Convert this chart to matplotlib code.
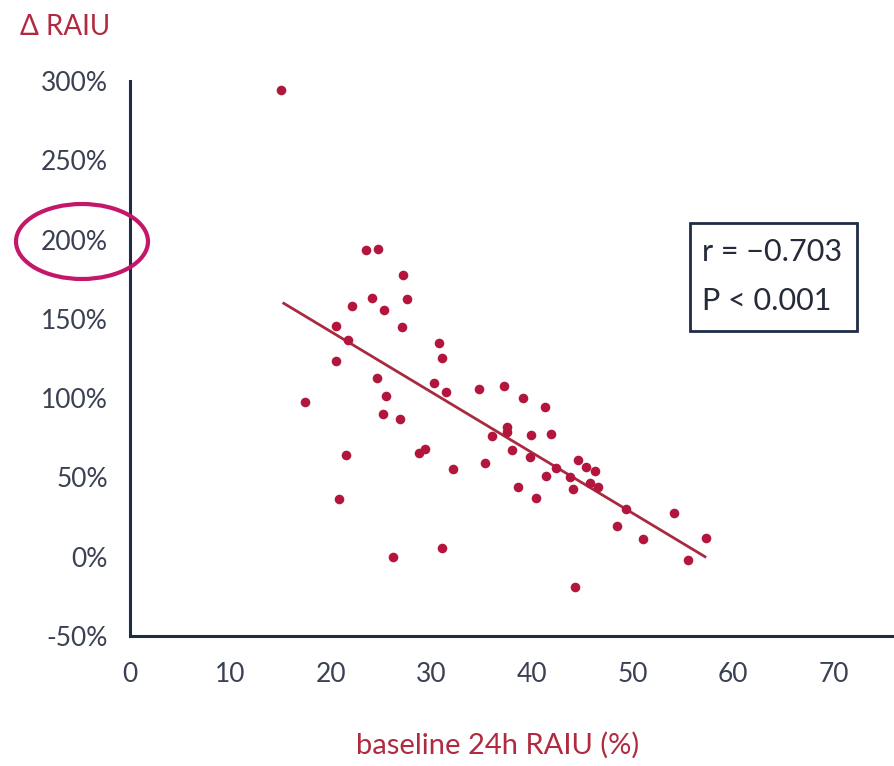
import numpy as np
import matplotlib
matplotlib.use("Agg")
import matplotlib.pyplot as plt
from matplotlib.patches import Ellipse, Rectangle

# baseline 24h RAIU (%) and change in RAIU (%)
baseline = [15.0, 17.4, 20.5, 20.5, 20.8, 21.5, 21.7, 22.1, 23.5, 24.7,
            24.1, 24.6, 25.2, 25.3, 25.5, 26.2, 26.9, 27.1, 27.2, 27.6,
            28.7, 29.3, 30.2, 30.7, 31.0, 31.0, 31.4, 32.1, 34.7, 35.3,
            36.0, 37.2, 37.5, 37.5, 38.0, 38.6, 39.1, 39.8, 39.9, 40.4,
            41.3, 41.4, 41.9, 42.4, 43.8, 44.1, 44.3, 44.6, 45.4, 45.8,
            46.3, 46.6, 48.4, 49.3, 51.0, 54.1, 55.5, 57.3]
delta = [294.3, 97.4, 123.6, 145.8, 36.4, 64.0, 136.9, 158.1, 193.4, 193.8,
         163.4, 112.5, 90.1, 155.4, 101.5, -0.4, 86.8, 144.6, 177.6, 162.3,
         65.2, 67.7, 109.3, 134.6, 125.5, 5.3, 103.7, 55.3, 105.5, 59.3,
         75.9, 107.4, 81.6, 78.8, 67.6, 44.1, 100.3, 62.7, 77.0, 37.3,
         94.6, 50.7, 77.4, 56.2, 50.3, 43.0, -19.0, 61.0, 56.7, 46.5,
         54.2, 44.1, 19.5, 29.9, 11.3, 27.6, -2.0, 12.1]

# regression line ends
fit_x = [15.3, 57.2]
fit_y = [159.8, 0.0]

xticks = [0, 10, 20, 30, 40, 50, 60, 70]
yticks = [-50, 0, 50, 100, 150, 200, 250, 300]
ytick_labels = ["-50%", "0%", "50%", "100%", "150%", "200%", "250%", "300%"]

plt.rcParams['font.family'] = ['Lato', 'DejaVu Sans']

W, H = 894, 766
fig = plt.figure(figsize=(W / 100, H / 100), dpi=100)
ax = fig.add_axes([130 / W, 130 / H, (W - 130) / W, 555 / H])

navy = "#1f2b48"
red = "#b3163c"
label_red = "#b02a40"
tick_col = "#3a4152"

ax.scatter(baseline, delta, s=48, color=red, zorder=3, linewidths=0)
ax.plot(fit_x, fit_y, color="#a82a40", lw=2, zorder=2)

ax.set_xlim(0, 76)
ax.set_ylim(-50, 300)
ax.set_xticks(xticks)
ax.set_yticks(yticks)
ax.set_yticklabels(ytick_labels)
ax.tick_params(axis="both", length=0, labelsize=19, labelcolor=tick_col)
ax.tick_params(axis="x", pad=19)
ax.tick_params(axis="y", pad=16)
# small cap tick at the top of the y axis
ax.set_yticks([300], minor=True)
ax.tick_params(axis="y", which="minor", length=9, width=2, color=navy)

for side in ["top", "right"]:
    ax.spines[side].set_visible(False)
for side in ["left", "bottom"]:
    ax.spines[side].set_color(navy)
    ax.spines[side].set_linewidth(2.2)

fig.text(498 / W, 1 - 745 / H, "baseline 24h RAIU (%)", color=label_red,
         fontsize=21, ha="center", va="center")
fig.text(20 / W, 1 - 27 / H, "Δ RAIU", color=label_red,
         fontsize=20, ha="left", va="center")

# stats box
fig.patches.append(Rectangle((690 / W, 1 - 331 / H), 167 / W, 108 / H,
                             transform=fig.transFigure, fill=False,
                             edgecolor=navy, lw=2))
fig.text(702 / W, 1 - 252 / H, "r = \u22120.703", color="#262b3a",
         fontsize=22, ha="left", va="center")
fig.text(702 / W, 1 - 301 / H, "P < 0.001", color="#262b3a",
         fontsize=22, ha="left", va="center")

# highlight ring round the 200% label
fig.patches.append(Ellipse((82 / W, 1 - 241.5 / H), 132 / W, 75 / H,
                           transform=fig.transFigure, fill=False,
                           edgecolor="#c4176a", lw=3))

fig.savefig("out.png", dpi=100)
